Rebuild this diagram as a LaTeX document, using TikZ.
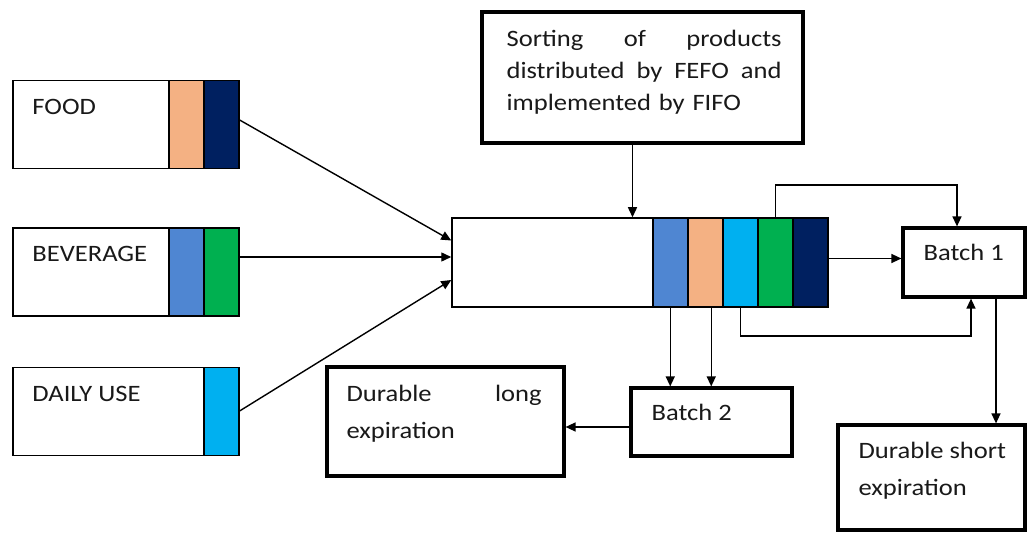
\documentclass[tikz,border=0pt]{standalone}
\usepackage{fontspec}
\setmainfont{Carlito}[FakeStretch=1.13]
\usepackage{tikz}
\usetikzlibrary{arrows.meta, positioning}

\definecolor{peach}{HTML}{F4B183}
\definecolor{navy}{HTML}{002060}
\definecolor{midblue}{HTML}{4F86D2}
\definecolor{leaf}{HTML}{00B050}
\definecolor{sky}{HTML}{00B0F0}

\begin{document}
\begin{tikzpicture}[
    x=1pt, y=-1pt,
    >={Triangle[length=10pt, width=9pt]},
    font=\fontsize{23.5}{32}\selectfont,
    item/.style={draw, line width=1.5pt, minimum width=225pt, minimum height=88pt},
    strip/.style={draw, line width=1.5pt, outer sep=0pt, minimum width=35pt, minimum height=88pt},
    result/.style={draw, line width=3.2pt},
    txt/.style={anchor=north west, align=left, inner sep=0pt, text=black!90},
    widetxt/.style={txt, font=\fontsize{23.5}{37}\selectfont},
    flow/.style={->, line width=1.4pt}
]
\useasboundingbox[fill=white] (0,0) rectangle (1027,534);

% product groups
\node[item] (food) at (125.5,124.5) {};
\node[strip, fill=navy, anchor=east] (food2) at (food.east) {};
\node[strip, fill=peach, left=0pt of food2] (food1) {};
\node[txt] (foodtxt) at ([shift={(20,19)}]food.north west) {FOOD};

\node[item] (bev) at (125.5,272) {};
\node[strip, fill=leaf, anchor=east] (bev2) at (bev.east) {};
\node[strip, fill=midblue, left=0pt of bev2] (bev1) {};
\node[txt] (bevtxt) at ([shift={(20,19)}]bev.north west) {BEVERAGE};

\node[item] (daily) at (125.5,411.5) {};
\node[strip, fill=sky, anchor=east] (daily1) at (daily.east) {};
\node[txt] (dailytxt) at ([shift={(20,19)}]daily.north west) {DAILY USE};

% sorted stock
\node[item, minimum width=375pt, minimum height=89pt] (bar) at (639.5,262.5) {};
\node[strip, minimum height=89pt, fill=navy, anchor=east] (s5) at (bar.east) {};
\node[strip, minimum height=89pt, fill=leaf, left=0pt of s5] (s4) {};
\node[strip, minimum height=89pt, fill=sky, left=0pt of s4] (s3) {};
\node[strip, minimum height=89pt, fill=peach, left=0pt of s3] (s2) {};
\node[strip, minimum height=89pt, fill=midblue, left=0pt of s2] (s1) {};

\node[result, minimum width=321pt, minimum height=131pt] (sort) at (642.5,77.5) {};
\node[txt, text width=275pt] (sorttxt) at ([shift={(26,20)}]sort.north west)
    {Sorting\hfill of\hfill products\\distributed\hfill by\hfill FEFO\hfill and\\implemented by FIFO};

% batches
\node[result, minimum width=122pt, minimum height=69pt] (batch1) at (964,262.5) {};
\node[txt] (batch1txt) at ([shift={(22,18)}]batch1.north west) {Batch 1};

\node[result, minimum width=161pt, minimum height=68pt] (batch2) at (711.5,422) {};
\node[txt] (batch2txt) at ([shift={(22,18)}]batch2.north west) {Batch 2};

\node[result, minimum width=237pt, minimum height=109pt] (durlong) at (445.5,421.5) {};
\node[widetxt, text width=195pt] (durlongtxt) at ([shift={(21,20)}]durlong.north west)
    {Durable\hfill long\\expiration};

\node[result, minimum width=187pt, minimum height=105pt] (durshort) at (931.5,477.5) {};
\node[widetxt] (durshorttxt) at ([shift={(22,19)}]durshort.north west) {Durable short\\expiration};

% connectors
\draw[flow] ([yshift=5pt]food.east) -- ([yshift=22pt]bar.west);
\draw[flow] ([yshift=15pt]bev.east) -- ([yshift=5.5pt]bar.west);
\draw[flow] (daily.east) -- ([yshift=-17.5pt]bar.west);
\draw[flow] ([xshift=-10pt]sort.south) -- ([xshift=-10pt]sort.south |- bar.north);

\draw[flow] ([yshift=4pt]bar.east) -- ([yshift=4pt]batch1.west);
\draw[flow] (s4.north) -- ++(0,-33) -| ([xshift=-7pt]batch1.north);
\draw[flow] (s3.south) -- ++(0,29) -| ([xshift=7pt]batch1.south);

\draw[flow] (s1.south) -- (s1.south |- batch2.north);
\draw[flow] ([xshift=6pt]s2.south) -- ([xshift=6pt]s2.south |- batch2.north);
\draw[flow] ([yshift=-5pt]batch2.west) -- ([yshift=-5pt]batch2.west -| durlong.east);
\draw[flow] ([xshift=32pt]batch1.south) -- ([xshift=32pt]batch1.south |- durshort.north);

\end{tikzpicture}
\end{document}
